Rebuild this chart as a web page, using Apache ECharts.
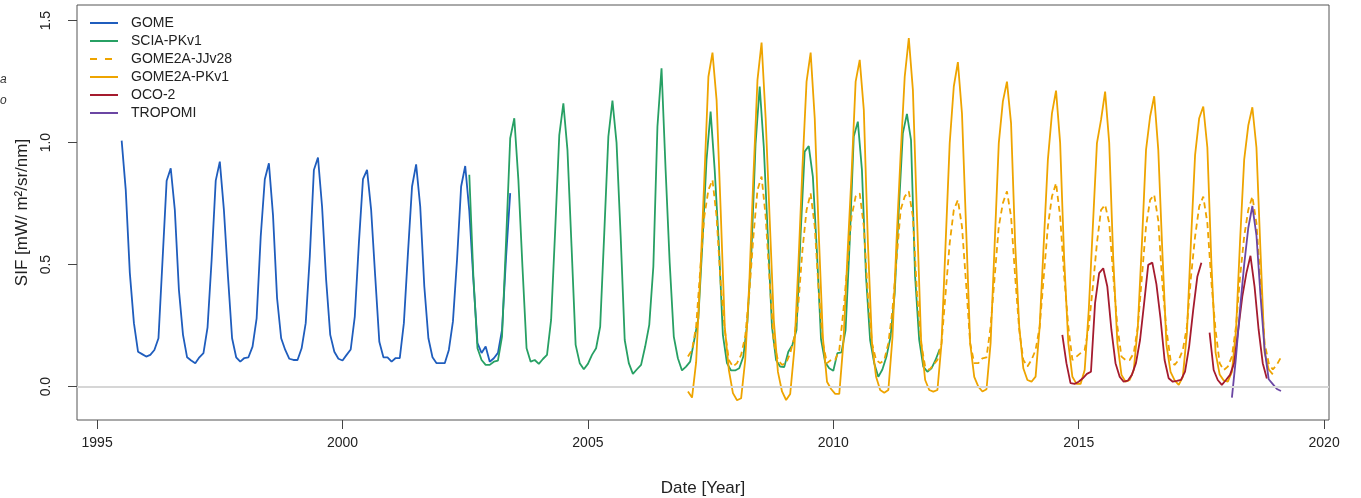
<!DOCTYPE html>
<html><head><meta charset="utf-8">
<script src="https://cdn.jsdelivr.net/npm/echarts@6/dist/echarts.min.js"></script>
<style>html,body{margin:0;padding:0;background:#fff}#c{width:1361px;height:498px}</style>
</head><body><div id="c"></div>
<script>
const xTicks = [1995, 2000, 2005, 2010, 2015, 2020];
const yTicks = [0, 0.5, 1.0, 1.5];
const seriesNames = ['GOME', 'SCIA-PKv1', 'GOME2A-JJv28', 'GOME2A-PKv1', 'OCO-2', 'TROPOMI'];

// monthly values; start = date of first sample
const gomeStart = '1995-07-01';
const gomeValues = [
  1.008, 0.806, 0.465, 0.26, 0.143, 0.133,
  0.123, 0.13, 0.15, 0.198, 0.52, 0.844, 0.895, 0.724, 0.396, 0.212, 0.12, 0.107,
  0.096, 0.12, 0.137, 0.243, 0.52, 0.844, 0.922, 0.724, 0.45, 0.198, 0.12, 0.102,
  0.117, 0.12, 0.164, 0.28, 0.615, 0.85, 0.915, 0.704, 0.362, 0.198, 0.15, 0.114,
  0.109, 0.109, 0.157, 0.26, 0.533, 0.888, 0.939, 0.738, 0.437, 0.212, 0.143, 0.114,
  0.107, 0.13, 0.152, 0.287, 0.588, 0.85, 0.888, 0.724, 0.45, 0.184, 0.12, 0.12,
  0.102, 0.117, 0.117, 0.26, 0.547, 0.82, 0.911, 0.738, 0.41, 0.198, 0.12, 0.096,
  0.096, 0.096, 0.15, 0.267, 0.52, 0.82, 0.904, 0.72, 0.437, 0.178, 0.138, 0.164,
  0.102, 0.116, 0.138, 0.232, 0.533, 0.793
];
const sciaStart = '2002-08-01';
const sciaValues = [
  0.868, 0.45, 0.157, 0.109, 0.089,
  0.089, 0.102, 0.106, 0.205, 0.60, 1.018, 1.10, 0.847, 0.49, 0.157, 0.102, 0.109,
  0.093, 0.113, 0.13, 0.273, 0.642, 1.031, 1.161, 0.97, 0.574, 0.171, 0.096, 0.071,
  0.093, 0.13, 0.157, 0.246, 0.63, 1.025, 1.172, 1.0, 0.62, 0.191, 0.096, 0.052,
  0.071, 0.089, 0.164, 0.253, 0.492, 1.066, 1.305, 0.888, 0.506, 0.205, 0.116, 0.066,
  0.082, 0.102, 0.191, 0.28, 0.588, 0.929, 1.127, 0.888, 0.588, 0.212, 0.096, 0.066,
  0.066, 0.075, 0.123, 0.266, 0.56, 0.997, 1.23, 0.984, 0.615, 0.246, 0.109, 0.082,
  0.08, 0.143, 0.171, 0.232, 0.62, 0.963, 0.986, 0.861, 0.55, 0.194, 0.1, 0.075,
  0.065, 0.137, 0.14, 0.232, 0.588, 1.025, 1.086, 0.888, 0.451, 0.191, 0.096, 0.04,
  0.07, 0.123, 0.205, 0.38, 0.72, 1.038, 1.118, 1.011, 0.451, 0.191, 0.082, 0.061,
  0.075, 0.109, 0.153
];
const gome2jjStart = '2007-01-15';
const gome2jjValues = [
  0.123, 0.15, 0.246, 0.478, 0.697, 0.806, 0.847, 0.697, 0.424, 0.232, 0.109, 0.082,
  0.096, 0.13, 0.205, 0.383, 0.615, 0.806, 0.861, 0.697, 0.424, 0.178, 0.109, 0.089,
  0.096, 0.137, 0.2, 0.34, 0.56, 0.724, 0.792, 0.656, 0.383, 0.178, 0.096, 0.109,
  0.11, 0.15, 0.31, 0.5, 0.697, 0.779, 0.792, 0.656, 0.37, 0.178, 0.109, 0.096,
  0.109, 0.178, 0.314, 0.519, 0.724, 0.779, 0.8, 0.697, 0.383, 0.178, 0.082, 0.068,
  0.089, 0.109, 0.178, 0.383, 0.588, 0.724, 0.765, 0.656, 0.424, 0.178, 0.096, 0.096,
  0.116, 0.12, 0.246, 0.451, 0.656, 0.752, 0.8, 0.697, 0.451, 0.232, 0.109, 0.082,
  0.109, 0.15, 0.246, 0.451, 0.656, 0.779, 0.834, 0.697, 0.451, 0.246, 0.109, 0.123,
  0.137, 0.15, 0.246, 0.41, 0.588, 0.724, 0.745, 0.67, 0.451, 0.246, 0.123, 0.109,
  0.109, 0.137, 0.246, 0.451, 0.656, 0.765, 0.786, 0.68, 0.42, 0.232, 0.109, 0.089,
  0.109, 0.15, 0.246, 0.451, 0.615, 0.738, 0.779, 0.67, 0.424, 0.232, 0.096, 0.068,
  0.082, 0.123, 0.246, 0.451, 0.615, 0.724, 0.779, 0.67, 0.424, 0.178, 0.096, 0.07,
  0.09, 0.12
];
const gome2pkStart = '2007-01-15';
const gome2pkValues = [
  -0.02, -0.045, 0.1, 0.45, 0.85, 1.27, 1.369, 1.175, 0.724, 0.246, 0.068, -0.027,
  -0.056, -0.048, 0.109, 0.424, 0.86, 1.257, 1.41, 1.1, 0.68, 0.27, 0.06, -0.02,
  -0.055, -0.03, 0.15, 0.5, 0.9, 1.25, 1.369, 1.1, 0.62, 0.2, 0.02, -0.01,
  -0.03, -0.03, 0.178, 0.538, 0.87, 1.25, 1.339, 1.134, 0.588, 0.178, 0.04, -0.014,
  -0.025, -0.014, 0.2, 0.6, 0.95, 1.27, 1.428, 1.216, 0.697, 0.191, 0.027, -0.014,
  -0.021, -0.014, 0.178, 0.588, 0.998, 1.23, 1.33, 1.12, 0.655, 0.178, 0.04, 0.0,
  -0.02, -0.011, 0.178, 0.588, 0.998, 1.169, 1.25, 1.08, 0.588, 0.246, 0.075, 0.027,
  0.02, 0.041, 0.246, 0.588, 0.929, 1.12, 1.213, 1.0, 0.519, 0.178, 0.04, 0.011,
  0.011, 0.068, 0.314, 0.656, 0.998, 1.093, 1.209, 1.0, 0.519, 0.178, 0.048, 0.02,
  0.027, 0.068, 0.246, 0.588, 0.97, 1.107, 1.19, 0.97, 0.55, 0.17, 0.06, 0.025,
  0.007, 0.04, 0.22, 0.6, 0.95, 1.1, 1.148, 0.98, 0.5, 0.14, 0.05, 0.025,
  0.02, 0.06, 0.23, 0.6, 0.93, 1.07, 1.145, 0.98, 0.55, 0.14, 0.07, 0.05
];
const oco2StartA = '2014-09-01';
const oco2ValuesA = [
  0.212, 0.096, 0.014, 0.011,
  0.02, 0.034, 0.052, 0.061, 0.342, 0.465, 0.485, 0.41, 0.232, 0.096, 0.041, 0.02,
  0.024, 0.048, 0.096, 0.191, 0.342, 0.499, 0.508, 0.42, 0.28, 0.109, 0.034, 0.02,
  0.023, 0.027, 0.061, 0.164, 0.314, 0.45, 0.508
];
const oco2StartB = '2017-09-01';
const oco2ValuesB = [
  0.221, 0.068, 0.027, 0.007,
  0.027, 0.048, 0.096, 0.232, 0.369, 0.465, 0.536, 0.41, 0.232, 0.096, 0.033
];
const tropomiStart = '2018-02-15';
const tropomiValues = [-0.045, 0.12, 0.32, 0.5, 0.65, 0.74, 0.62, 0.37, 0.15, 0.03, 0.01, -0.01, -0.018];

function decYear(start, i) {
  const p = start.split('-').map(Number);
  return p[0] + (p[1] - 1 + i) / 12 + (p[2] - 1) / 365;
}
function build(start, values) { return values.map((v, i) => [decYear(start, i), v]); }

const colors = {
  GOME: '#1f5dbd', SCIA: '#27a064', ORANGE: '#eea400', OCO: '#a51b2e', TROPOMI: '#6b46a3'
};
const font = '"Liberation Sans", Arial, Helvetica, sans-serif';

function lineSeries(name, data, color, extra) {
  return Object.assign({
    name: name, type: 'line', data: data, showSymbol: false, symbol: 'none',
    lineStyle: { color: color, width: 1.8 }, itemStyle: { color: color },
    silent: true, animation: false
  }, extra || {});
}

const series = [
  lineSeries(seriesNames[0], build(gomeStart, gomeValues), colors.GOME, {
    markLine: {
      silent: true, symbol: 'none', label: { show: false },
      lineStyle: { color: '#d6d6d6', width: 2, type: 'solid' },
      data: [{ yAxis: 0 }], animation: false
    }
  }),
  lineSeries(seriesNames[1], build(sciaStart, sciaValues), colors.SCIA),
  lineSeries(seriesNames[2], build(gome2jjStart, gome2jjValues), colors.ORANGE, {
    lineStyle: { color: colors.ORANGE, width: 1.8, type: [6, 4] }
  }),
  lineSeries(seriesNames[3], build(gome2pkStart, gome2pkValues), colors.ORANGE),
  lineSeries(seriesNames[4], build(oco2StartA, oco2ValuesA), colors.OCO),
  lineSeries(seriesNames[4], build(oco2StartB, oco2ValuesB), colors.OCO),
  lineSeries(seriesNames[5], build(tropomiStart, tropomiValues), colors.TROPOMI)
];

const solidIcon = 'path://M0,0H28V2H0Z';
const dashIcon = 'path://M0,0H7V2H0Z M15,0H22V2H15Z M28,0H28.01V2H28Z';
const legendData = seriesNames.map(n => ({ name: n, icon: n === 'GOME2A-JJv28' ? dashIcon : solidIcon }));

const chart = echarts.init(document.getElementById('c'), null, { renderer: 'canvas' });
chart.setOption({
  animation: false,
  backgroundColor: '#ffffff',
  textStyle: { fontFamily: font },
  grid: { left: 77, right: 32, top: 5, bottom: 78, show: true, borderColor: '#555', borderWidth: 1,
    backgroundColor: 'transparent', containLabel: false, outerBoundsMode: 'none' },
  legend: {
    data: legendData, orient: 'vertical', left: 90, top: 16, padding: 0,
    itemWidth: 28, itemHeight: 2, itemGap: 4,
    textStyle: { fontSize: 14, color: '#222', fontFamily: font, lineHeight: 14, padding: [0, 0, 0, 8] },
    selectedMode: false
  },
  xAxis: {
    type: 'value', min: 1994.59, max: 2020.1,
    name: 'Date [Year]', nameLocation: 'middle', nameGap: 60,
    nameTextStyle: { fontSize: 17, color: '#222', fontFamily: font },
    axisLine: { show: false, onZero: false },
    axisTick: { show: true, length: 9, lineStyle: { color: '#444' }, customValues: xTicks },
    axisLabel: { show: true, customValues: xTicks, fontSize: 14, color: '#222', margin: 16, fontFamily: font,
      formatter: v => String(Math.round(v)) },
    splitLine: { show: false }
  },
  yAxis: {
    type: 'value', min: -0.137, max: 1.564,
    name: 'SIF [mW/ m²/sr/nm]', nameLocation: 'middle', nameGap: 35, nameRotate: 90,
    nameTextStyle: { fontSize: 17, color: '#222', fontFamily: font },
    axisLine: { show: false, onZero: false },
    axisTick: { show: true, length: 9, lineStyle: { color: '#444' }, customValues: yTicks },
    axisLabel: { show: true, customValues: yTicks, rotate: 90, fontSize: 14, color: '#222', margin: 24,
      fontFamily: font, formatter: v => Number(v).toFixed(1) },
    splitLine: { show: false }
  },
  graphic: [
    { type: 'text', left: 0, top: 74, style: { text: 'a', font: 'italic 12px ' + font, fill: '#333' } },
    { type: 'text', left: 0, top: 95, style: { text: 'o', font: 'italic 12px ' + font, fill: '#333' } }
  ],
  series: series
});
</script>
</body></html>
